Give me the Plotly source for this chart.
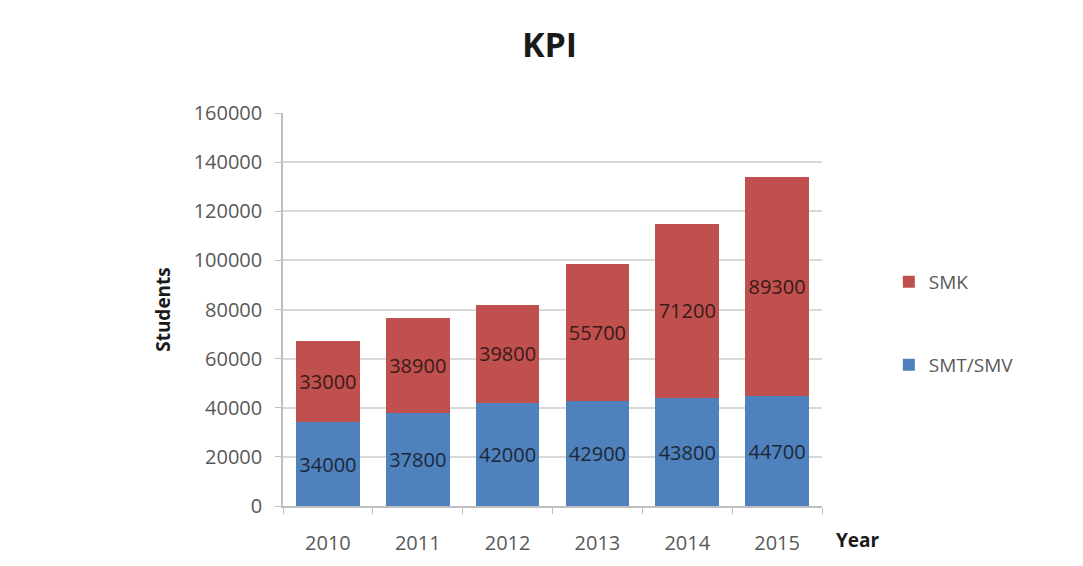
import plotly.graph_objects as go

years = ["2010", "2011", "2012", "2013", "2014", "2015"]
smt_smv = [34000, 37800, 42000, 42900, 43800, 44700]
smk = [33000, 38900, 39800, 55700, 71200, 89300]
y_ticks = [0, 20000, 40000, 60000, 80000, 100000, 120000, 140000, 160000]

font_family = "Open Sans, Noto Sans, sans-serif"
blue = "#4F81BD"
red = "#C0504D"

fig = go.Figure()

fig.add_trace(go.Bar(
    x=years, y=smt_smv, name="SMT/SMV",
    marker=dict(color=blue, line=dict(width=0)),
    text=smt_smv, textposition="inside", insidetextanchor="middle",
    textfont=dict(color="#1C2838", size=20, family=font_family),
    legend="legend2",
))
fig.add_trace(go.Bar(
    x=years, y=smk, name="SMK",
    marker=dict(color=red, line=dict(width=0)),
    text=smk, textposition="inside", insidetextanchor="middle",
    textfont=dict(color="#3A1A1A", size=20, family=font_family),
    legend="legend",
))

fig.update_layout(
    width=1083, height=566,
    barmode="stack", bargap=0.29,
    showlegend=True,
    plot_bgcolor="white", paper_bgcolor="white",
    font=dict(family=font_family, color="#595959", size=20),
    margin=dict(l=275, r=269, t=105, b=68),
    title=dict(text="<b>KPI</b>", x=0.5, xanchor="center", y=0.935, yanchor="middle",
               font=dict(size=34, color="#1a1a1a", family=font_family)),
    uniformtext=dict(minsize=16, mode="show"),
    legend=dict(x=1.124, y=0.57, xanchor="left", yanchor="middle",
                font=dict(size=19, color="#595959"), itemwidth=30),
    legend2=dict(x=1.124, y=0.359, xanchor="left", yanchor="middle",
                 font=dict(size=19, color="#595959"), itemwidth=30),
    annotations=[dict(text="<b>Year</b>", x=1.067, y=-0.087, xref="paper", yref="paper",
                      xanchor="center", yanchor="middle", showarrow=False,
                      font=dict(size=19, color="#1a1a1a"))],
)

fig.update_yaxes(
    range=[0, 160000], tickvals=y_ticks, tickformat="d", showgrid=True,
    gridcolor="#D9D9D9", gridwidth=2,
    showline=True, linecolor="#BFBFBF", linewidth=1.5,
    ticks="outside", ticklen=6, tickcolor="#BFBFBF",
    ticklabelstandoff=9, automargin=False,
    title=dict(text="<b>Students</b>", standoff=18, font=dict(size=19, color="#1a1a1a")),
    zeroline=False,
)
fig.update_xaxes(
    showline=True, linecolor="#BFBFBF", linewidth=1.5,
    ticks="outside", ticklen=6, tickcolor="#BFBFBF", tickson="boundaries",
    ticklabelstandoff=18, automargin=False,
    showgrid=False,
)

fig.write_html("out.html")
